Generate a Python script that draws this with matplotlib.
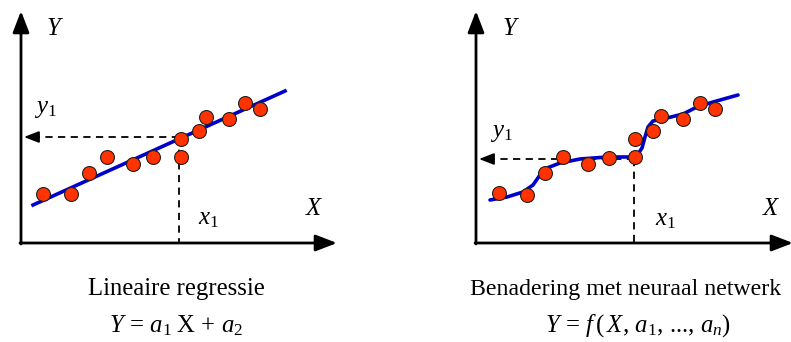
import matplotlib.pyplot as plt

plt.rcParams['mathtext.fontset'] = 'custom'
plt.rcParams['mathtext.rm'] = 'Liberation Serif'
plt.rcParams['mathtext.it'] = 'Liberation Serif:italic'
plt.rcParams['font.family'] = 'Liberation Serif'

# left panel: linear regression (pixel coordinates)
lin_x = [43, 71, 89, 107, 133, 153, 181, 181, 199, 206, 229, 245, 260]
lin_y = [194, 194, 173, 157, 164, 157, 139, 157, 131, 117, 119, 103, 109]
fit_x = [33, 285]
fit_y = [205, 91]

# right panel: neural network approximation
nn_x = [499, 527, 545, 563, 588, 609, 635, 635, 653, 661, 683, 700, 715]
nn_y = [193, 195, 173, 157, 164, 158, 157, 139, 131, 116, 119, 103, 109]
curve_x = [490, 507, 523, 533, 540, 547, 560, 580, 607, 627, 634, 638, 642,
           645, 648, 653, 667, 683, 697, 713, 738]
curve_y = [200, 197, 192, 185, 175, 168, 163, 159, 157, 157, 157, 154, 148,
           137, 127, 121, 118, 114, 107, 102, 95]

fig = plt.figure(figsize=(7.91, 3.42), dpi=100)
ax = fig.add_axes([0, 0, 1, 1])
ax.set_xlim(0, 791)
ax.set_ylim(342, 0)
ax.axis('off')

red = '#ff3300'
blue = '#0000cc'
big_head = '-|>,head_length=1.3,head_width=0.5'


def axes_arrows(ox, oy, xend):
    ax.annotate('', xy=(ox, 11), xytext=(ox, oy + 1), annotation_clip=False,
                arrowprops=dict(arrowstyle=big_head, lw=2, color='black',
                                shrinkA=0, shrinkB=0))
    ax.annotate('', xy=(xend, oy), xytext=(ox - 1, oy), annotation_clip=False,
                arrowprops=dict(arrowstyle=big_head, lw=2, color='black',
                                shrinkA=0, shrinkB=0))


def guide(ox, oy, px, py):
    ax.plot([px, ox + 14], [py, py], ls=(0, (4, 3)), color='black', lw=1.3)
    ax.plot([px, px], [py, oy], ls=(0, (4, 3)), color='black', lw=1.3)
    ax.annotate('', xy=(ox + 3, py), xytext=(ox + 18, py),
                arrowprops=dict(arrowstyle='-|>,head_length=0.9,head_width=0.35',
                                lw=1.3, color='black', shrinkA=0, shrinkB=0))


axes_arrows(21, 243, 337)
guide(21, 243, 179, 137)
ax.plot(fit_x, fit_y, color=blue, lw=2.6, zorder=2)
ax.plot(lin_x, lin_y, 'o', ms=10, mfc=red, mec='#202020', mew=0.8, zorder=3)

axes_arrows(476, 243, 793)
guide(476, 243, 634, 159)
ax.plot(curve_x, curve_y, color=blue, lw=2.6, zorder=2, solid_capstyle='round')
ax.plot(nn_x, nn_y, 'o', ms=10, mfc=red, mec='#202020', mew=0.8, zorder=3)

lab = dict(fontsize=17.8, ha='center', va='center')
ax.text(55, 29, '$Y$', **lab)
ax.text(45, 109, '$y_1$', **lab)
ax.text(314, 209, '$X$', **lab)
ax.text(208, 219, '$x_1$', **lab)
ax.text(511, 29, '$Y$', **lab)
ax.text(501, 133, '$y_1$', **lab)
ax.text(771, 209, '$X$', **lab)
ax.text(665, 220, '$x_1$', **lab)

ax.text(176, 289, 'Lineaire regressie', **lab)
ax.text(176, 326, r'$Y\,=\,a_1\;\mathrm{X}\,+\,a_2$', **lab)
ax.text(470, 289, 'Benadering met neuraal netwerk', fontsize=17.2, ha='left', va='center')
ax.text(638, 326, r'$Y\,=\,f\,(\,X,\,a_1,\,$..., $a_n)$', **lab)

fig.savefig('out.png', dpi=100)
